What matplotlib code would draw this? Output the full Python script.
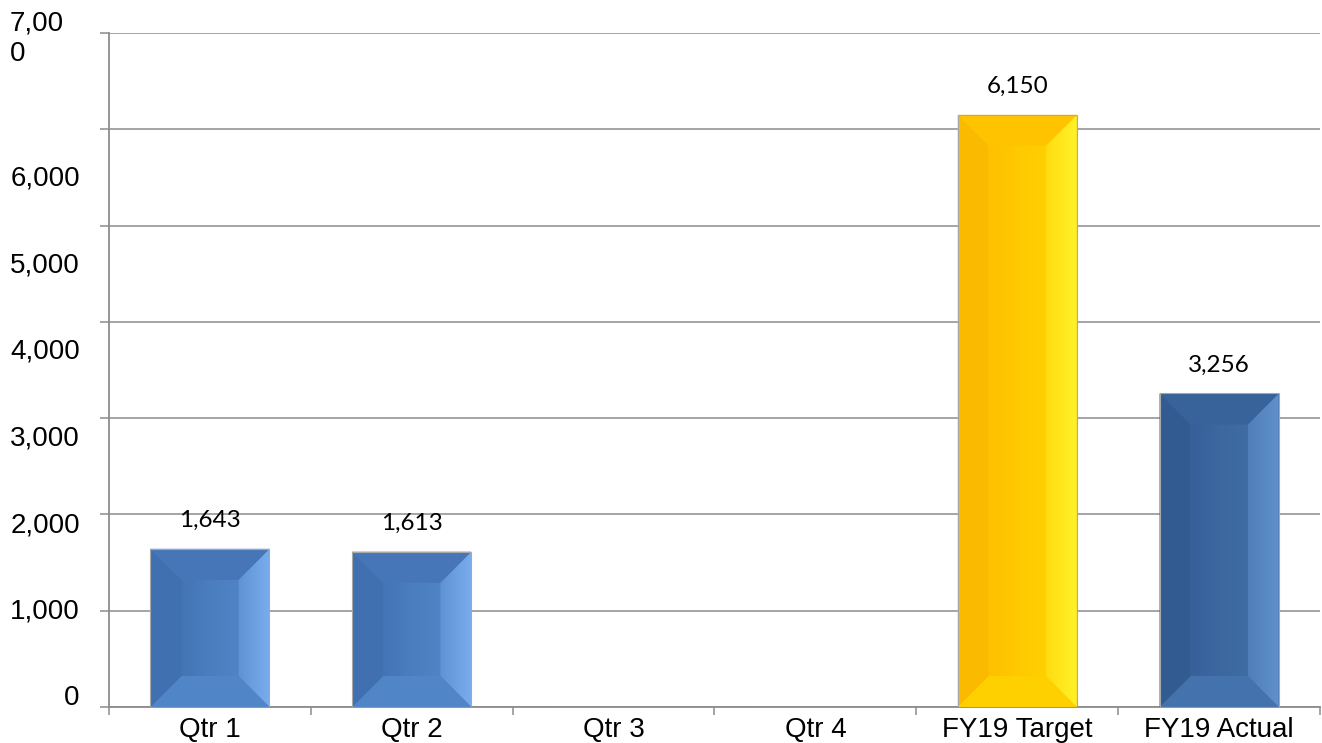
import matplotlib.pyplot as plt
import numpy as np
from matplotlib.patches import Polygon
from matplotlib.colors import LinearSegmentedColormap

categories = ['Qtr 1', 'Qtr 2', 'Qtr 3', 'Qtr 4', 'FY19 Target', 'FY19 Actual']
values = [1643, 1613, 0, 0, 6150, 3256]
value_labels = ['1,643', '1,613', '', '', '6,150', '3,256']
bar_styles = ['blue', 'blue', 'blue', 'blue', 'gold', 'navy']

grid_values = [0, 1000, 2000, 3000, 4000, 5000, 6000, 7000]
ytick_values = [0, 1000, 2000, 3000, 4000, 5000, 6000]
ytick_labels = ['0', '1,000', '2,000', '3,000', '4,000', '5,000', '6,000']

# colours for the bevelled look: face gradient, right bevel gradient, other bevels
palettes = {
    'blue': dict(face=['#4474B5', '#4A7EBF', '#4E83C5'], right=['#5E92D4', '#78ACEC'],
                 top='#4676B8', bottom='#5085C8', left='#4170B0'),
    'gold': dict(face=['#FFC000', '#FFC900', '#FFD000'], right=['#FFDC10', '#FFF22A'],
                 top='#FFC300', bottom='#FFD000', left='#FABA00'),
    'navy': dict(face=['#35609A', '#3C679F', '#3F6CA4'], right=['#4F7EB8', '#6191CC'],
                 top='#37629A', bottom='#4372AC', left='#325B91'),
}

GRID = '#8C8C8C'
BEVEL_PX = 31


def gradient_fill(ax, verts, colors, z):
    poly = Polygon(verts, closed=True, facecolor='none', edgecolor='none')
    ax.add_patch(poly)
    xs = [v[0] for v in verts]
    ys = [v[1] for v in verts]
    cmap = LinearSegmentedColormap.from_list('g', colors)
    im = ax.imshow(np.linspace(0, 1, 256).reshape(1, -1), cmap=cmap, aspect='auto',
                   extent=(min(xs), max(xs), min(ys), max(ys)), origin='lower',
                   interpolation='bilinear', zorder=z)
    im.set_clip_path(poly)


def main():
    fig = plt.figure(figsize=(13.22, 7.43), dpi=100)
    ax = fig.add_axes([109 / 1322, 36 / 743, 1211 / 1322, 674 / 743])

    x = np.arange(len(categories))
    xlim = (-0.5, len(categories) - 0.5)
    ylim = (0, 7000)
    ax.set_xlim(*xlim)
    ax.set_ylim(*ylim)

    faces = [palettes[s]['face'][1] for s in bar_styles]
    bars = ax.bar(x, values, width=0.59, color=faces, edgecolor='none', zorder=2)

    # bevel overlays drawn on each bar
    for rect, style, lab in zip(bars, bar_styles, value_labels):
        h = rect.get_height()
        if h <= 0:
            continue
        pal = palettes[style]
        x0 = rect.get_x()
        x1 = x0 + rect.get_width()
        y0, y1 = 0, h
        (px0, py0), (px1, py1) = ax.transData.transform([(x0, y0), (x1, y1)])
        b = min(BEVEL_PX, (px1 - px0) / 2, (py1 - py0) / 2)
        bx = (x1 - x0) * b / (px1 - px0)
        by = (y1 - y0) * b / (py1 - py0)
        ix0, ix1, iy0, iy1 = x0 + bx, x1 - bx, y0 + by, y1 - by

        gradient_fill(ax, [(ix0, iy0), (ix1, iy0), (ix1, iy1), (ix0, iy1)], pal['face'], 3)
        gradient_fill(ax, [(x1, y0), (x1, y1), (ix1, iy1), (ix1, iy0)], pal['right'], 3)
        ax.add_patch(Polygon([(x0, y0), (x1, y0), (ix1, iy0), (ix0, iy0)],
                             facecolor=pal['bottom'], edgecolor='none', zorder=3))
        ax.add_patch(Polygon([(x0, y1), (x1, y1), (ix1, iy1), (ix0, iy1)],
                             facecolor=pal['top'], edgecolor='none', zorder=3))
        ax.add_patch(Polygon([(x0, y0), (x0, y1), (ix0, iy1), (ix0, iy0)],
                             facecolor=pal['left'], edgecolor='none', zorder=3))

        ax.annotate(lab, (rect.get_x() + rect.get_width() / 2, h), xytext=(0, 13),
                    textcoords='offset points', ha='center', va='bottom',
                    fontsize=17.5, family='Lato', color='black', zorder=6)

    ax.bar(x, values, width=0.59, fill=False, edgecolor='#A8A8A8', linewidth=0.8, zorder=5)
    ax.set_xlim(*xlim)
    ax.set_ylim(*ylim)

    # gridlines and outward tick marks
    ax.set_yticks(grid_values)
    ax.set_yticklabels([])
    ax.yaxis.grid(True, color=GRID, linewidth=1.1)
    ax.set_axisbelow(True)
    ax.tick_params(axis='y', which='major', length=6.5, width=1.1, color=GRID, direction='out')

    # the exported chart has its value labels drifting from the gridlines
    label_pos = [(12 + 0.0865 * v) * 7000 / 674 for v in ytick_values]
    ax.set_yticks(label_pos, minor=True)
    ax.set_yticklabels(ytick_labels, minor=True, fontsize=20, family='Liberation Sans')
    ax.tick_params(axis='y', which='minor', length=0, pad=21)
    ax.annotate('7,00\n0', (0, 7000), xycoords=('axes fraction', 'data'),
                xytext=(-99, -6), textcoords='offset pixels', ha='left', va='center',
                multialignment='left', fontsize=20, family='Liberation Sans',
                linespacing=1.25, annotation_clip=False)

    ax.set_xticks(np.arange(len(categories) + 1) - 0.5)
    ax.set_xticklabels([])
    ax.tick_params(axis='x', which='major', length=5.5, width=1.1, color=GRID, direction='out')
    ax.set_xticks(x, minor=True)
    ax.set_xticklabels(categories, minor=True, fontsize=20, family='Liberation Sans')
    ax.tick_params(axis='x', which='minor', length=0, pad=7)

    for side in ['top', 'right']:
        ax.spines[side].set_visible(False)
    for side in ['left', 'bottom']:
        ax.spines[side].set_color(GRID)
        ax.spines[side].set_linewidth(1.3)

    plt.savefig('out.png', dpi=100)


if __name__ == "__main__":
    main()
